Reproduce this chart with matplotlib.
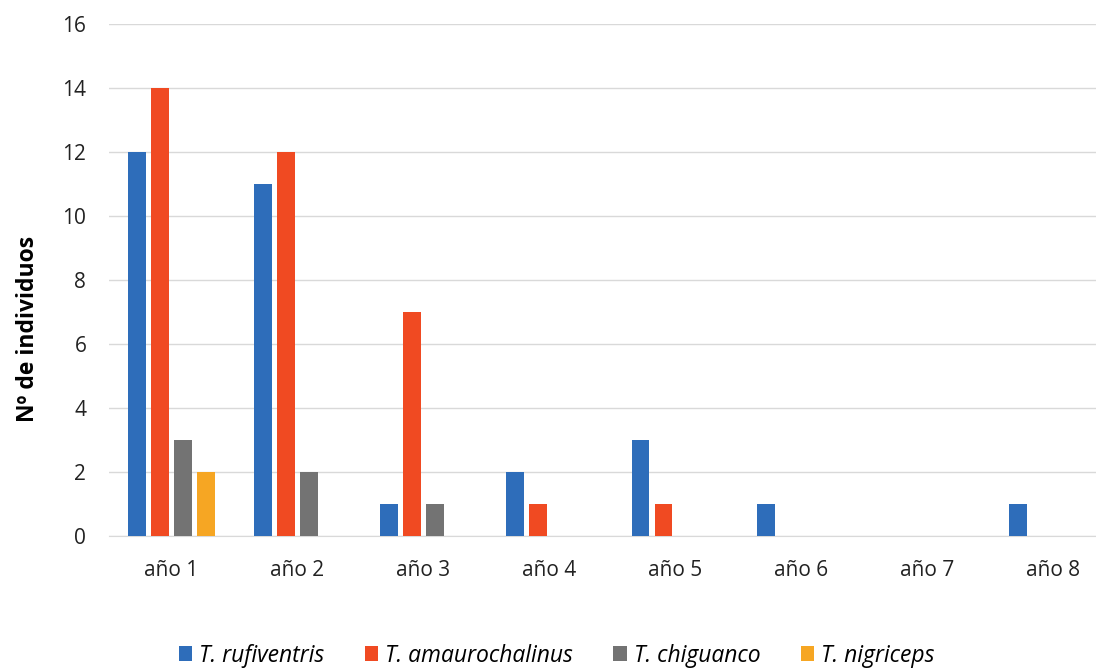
import numpy as np
import matplotlib
matplotlib.use("Agg")
from matplotlib import pyplot as plt

years = ['año 1', 'año 2', 'año 3', 'año 4', 'año 5', 'año 6', 'año 7', 'año 8']
species = ['T. rufiventris', 'T. amaurochalinus', 'T. chiguanco', 'T. nigriceps']
rufiventris = [12, 11, 1, 2, 3, 1, 0, 1]
amaurochalinus = [14, 12, 7, 1, 1, 0, 0, 0]
chiguanco = [3, 2, 1, 0, 0, 0, 0, 0]
nigriceps = [2, 0, 0, 0, 0, 0, 0, 0]
colors = ['#2E6DBA', '#F04A22', '#737373', '#F6A623']

plt.rcParams['font.family'] = ['Open Sans', 'DejaVu Sans']

fig = plt.figure(figsize=(10.96, 6.69), dpi=100)
# plot area runs past the right edge of the picture (chart was cropped)
ax = fig.add_axes([0.099, 0.1988, 0.919, 0.7653])

x = np.arange(len(years))
slot = 0.183
width = 0.142
series = [rufiventris, amaurochalinus, chiguanco, nigriceps]
for i, vals in enumerate(series):
    ax.bar(x + (i - 1.5) * slot, vals, width, color=colors[i], label=species[i], zorder=3)

ax.set_xlim(-0.5, len(years) - 0.5)
ax.set_ylim(0, 16)
ax.set_yticks(range(0, 17, 2))
ax.set_xticks(x)
ax.set_xticklabels(years)
ax.grid(axis='y', color='#D9D9D9', linewidth=1, zorder=0)
for s in ['top', 'right', 'left']:
    ax.spines[s].set_visible(False)
ax.spines['bottom'].set_color('#D9D9D9')
ax.tick_params(axis='both', length=0, labelsize=15, colors='#222222')
ax.tick_params(axis='x', pad=17)
ax.tick_params(axis='y', pad=16)
ax.set_ylabel('Nº de individuos', fontsize=16.5, fontweight='bold')
ax.yaxis.set_label_coords(-0.068, 0.404)

leg = fig.legend(loc='center', bbox_to_anchor=(0.508, 0.02), ncol=4, frameon=False,
                 prop={'style': 'italic', 'size': 16.5}, handlelength=0.6, handleheight=0.6,
                 handletextpad=0.3, columnspacing=1.75)

fig.savefig('out.png', dpi=100)
